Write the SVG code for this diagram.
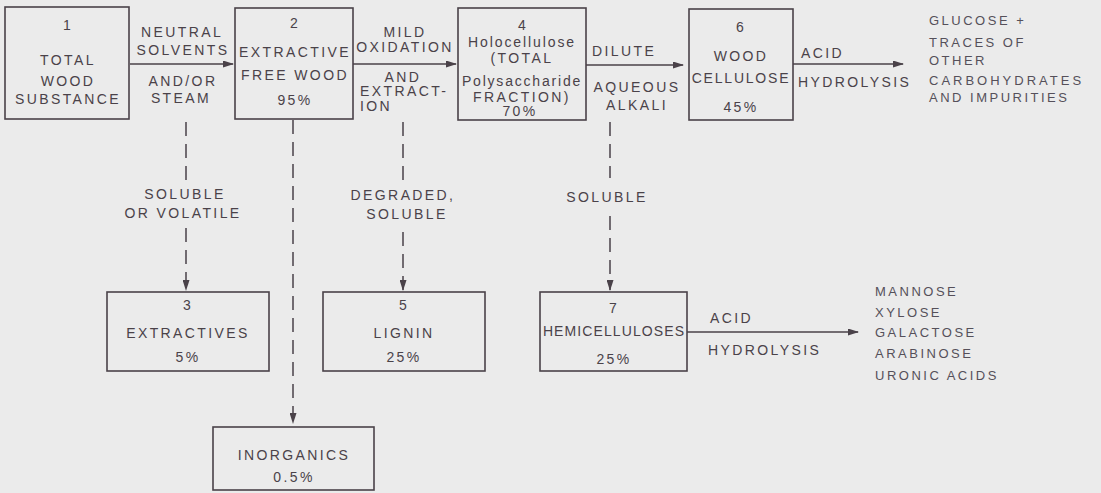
<svg xmlns="http://www.w3.org/2000/svg" width="1101" height="493" viewBox="0 0 1101 493">
<defs>
<marker id="ah" markerWidth="11" markerHeight="7" refX="10" refY="3.5" orient="auto" markerUnits="userSpaceOnUse"><path d="M0,0 L11,3.5 L0,7 z" fill="#4a4249"/></marker>
<style>
.box{fill:none;stroke:#4a4249;stroke-width:1.6}
.t{font-family:"Liberation Sans",Arial,sans-serif;font-size:14px;fill:#4a4249;letter-spacing:2.4px;text-anchor:middle}
.l{text-anchor:start}
.c{stroke:#4a4249;stroke-width:1.5;fill:none}
.d{stroke-dasharray:14 8}
.s{font-size:13px;letter-spacing:2.5px;fill:#55505a}
</style>
</defs>
<rect width="1101" height="493" fill="#ebebeb"/>
<g id="connectors">
<path class="c" d="M130,64 H233" marker-end="url(#ah)"/>
<path class="c" d="M353,64 H456" marker-end="url(#ah)"/>
<path class="c" d="M586,65 H683" marker-end="url(#ah)"/>
<path class="c" d="M793,64 H903" marker-end="url(#ah)"/>
<path class="c" d="M687,332 H858" marker-end="url(#ah)"/>
<path class="c d" d="M186,122 V186"/>
<path class="c d" d="M186,228 V290" marker-end="url(#ah)"/>
<path class="c d" d="M293,120 V423" marker-end="url(#ah)"/>
<path class="c d" d="M403,122 V184"/>
<path class="c d" d="M403,232 V290" marker-end="url(#ah)"/>
<path class="c d" d="M610,122 V178"/>
<path class="c d" d="M610,216 V290" marker-end="url(#ah)"/>
<text class="t" x="182" y="37">NEUTRAL</text>
<text class="t" x="183" y="55">SOLVENTS</text>
<text class="t" x="183" y="86">AND/OR</text>
<text class="t" x="181" y="103">STEAM</text>
<text class="t" x="405" y="37">MILD</text>
<text class="t" x="405" y="52">OXIDATION</text>
<text class="t" x="403" y="82">AND</text>
<text class="t l" x="360" y="96">EXTRACT-</text>
<text class="t l" x="360" y="111">ION</text>
<text class="t l" x="592" y="56">DILUTE</text>
<text class="t" x="637" y="92">AQUEOUS</text>
<text class="t" x="637" y="110">ALKALI</text>
<text class="t l" x="801" y="58">ACID</text>
<text class="t l" x="798" y="87">HYDROLYSIS</text>
<text class="t" x="185" y="199">SOLUBLE</text>
<text class="t" x="183" y="218">OR VOLATILE</text>
<text class="t" x="403" y="200">DEGRADED,</text>
<text class="t" x="407" y="219">SOLUBLE</text>
<text class="t" x="607" y="202">SOLUBLE</text>
<text class="t l" x="710" y="323">ACID</text>
<text class="t l" x="708" y="355">HYDROLYSIS</text>
</g>
<g id="n1">
<rect class="box" x="5" y="7" width="124" height="112"/>
<text class="t" x="68" y="30">1</text>
<text class="t" x="68" y="65">TOTAL</text>
<text class="t" x="68" y="86">WOOD</text>
<text class="t" x="68" y="104">SUBSTANCE</text>
</g>
<g id="n2">
<rect class="box" x="235" y="8" width="118" height="111"/>
<text class="t" x="295" y="28">2</text>
<text class="t" x="295" y="57">EXTRACTIVE</text>
<text class="t" x="295" y="80">FREE WOOD</text>
<text class="t" x="295" y="105">95%</text>
</g>
<g id="n4">
<rect class="box" x="458" y="8" width="128" height="112"/>
<text class="t" x="523" y="30">4</text>
<text class="t" x="522" y="47" style="letter-spacing:1.9px">Holocellulose</text>
<text class="t" x="522" y="63">(TOTAL</text>
<text class="t" x="522" y="86" style="letter-spacing:1.8px">Polysaccharide</text>
<text class="t" x="522" y="102">FRACTION)</text>
<text class="t" x="520" y="116">70%</text>
</g>
<g id="n6">
<rect class="box" x="689" y="9" width="104" height="111"/>
<text class="t" x="741" y="32">6</text>
<text class="t" x="741" y="61">WOOD</text>
<text class="t" x="741" y="83" style="letter-spacing:1.8px">CELLULOSE</text>
<text class="t" x="741" y="112">45%</text>
</g>
<g id="glucose">
<text class="t l s" x="929" y="25">GLUCOSE +</text>
<text class="t l s" x="929" y="47">TRACES OF</text>
<text class="t l s" x="929" y="65">OTHER</text>
<text class="t l s" x="929" y="85" style="letter-spacing:3px">CARBOHYDRATES</text>
<text class="t l s" x="929" y="102">AND IMPURITIES</text>
</g>
<g id="n3">
<rect class="box" x="107" y="292" width="162" height="79"/>
<text class="t" x="188" y="310">3</text>
<text class="t" x="188" y="338">EXTRACTIVES</text>
<text class="t" x="188" y="362">5%</text>
</g>
<g id="n5">
<rect class="box" x="323" y="292" width="162" height="79"/>
<text class="t" x="404" y="310">5</text>
<text class="t" x="404" y="338">LIGNIN</text>
<text class="t" x="404" y="362">25%</text>
</g>
<g id="n7">
<rect class="box" x="540" y="292" width="147" height="79"/>
<text class="t" x="614" y="313">7</text>
<text class="t" x="614" y="336" style="letter-spacing:1.1px">HEMICELLULOSES</text>
<text class="t" x="614" y="364">25%</text>
</g>
<g id="sugars">
<text class="t l s" x="875" y="296">MANNOSE</text>
<text class="t l s" x="875" y="317">XYLOSE</text>
<text class="t l s" x="875" y="337">GALACTOSE</text>
<text class="t l s" x="875" y="358">ARABINOSE</text>
<text class="t l s" x="875" y="380">URONIC ACIDS</text>
</g>
<g id="inorganics">
<rect class="box" x="213" y="427" width="161" height="63"/>
<text class="t" x="294" y="460">INORGANICS</text>
<text class="t" x="294" y="482">0.5%</text>
</g>
</svg>
